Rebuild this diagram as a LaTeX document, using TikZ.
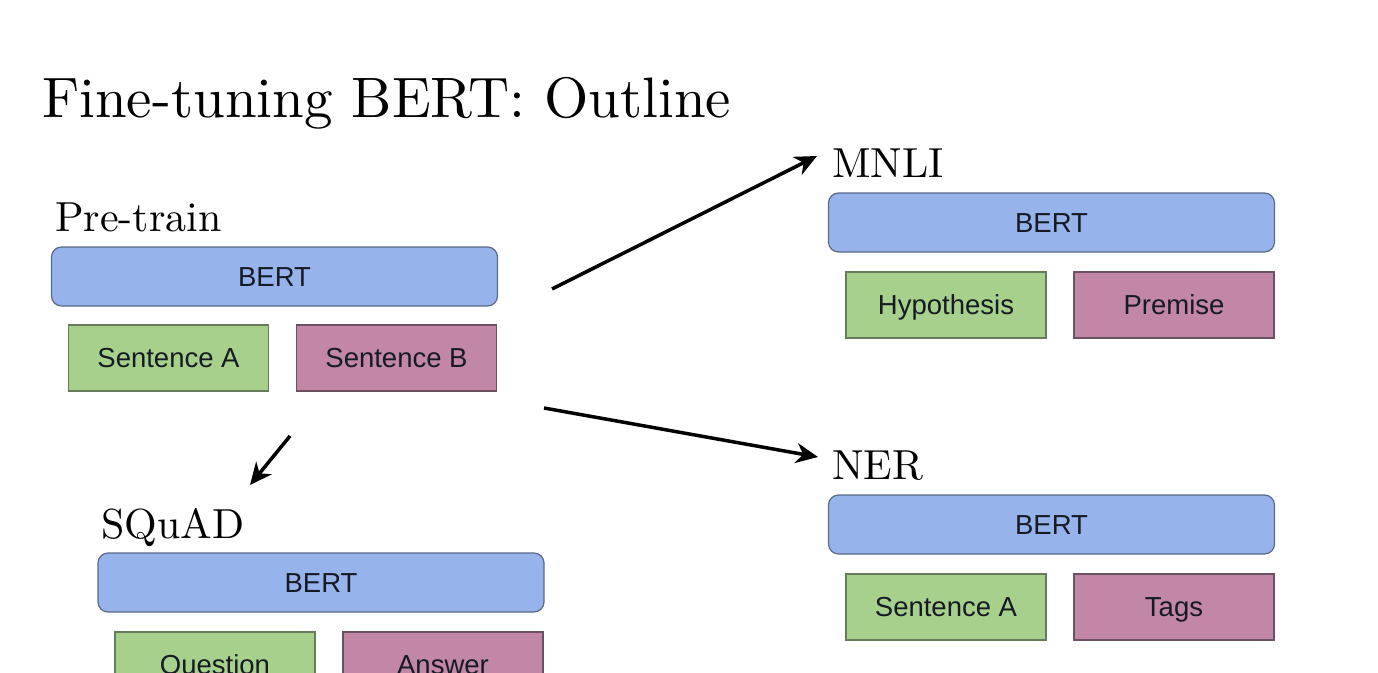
\documentclass[tikz,border=0pt]{standalone}
\usepackage{fontspec}
\setmainfont{lmroman10}[Extension=.otf,UprightFont=*-regular,BoldFont=*-bold]
\setsansfont{Liberation Sans}
\usetikzlibrary{arrows.meta}
\definecolor{bertfill}{HTML}{97B3EC}
\definecolor{bertdraw}{HTML}{5A6A88}
\definecolor{grnfill}{HTML}{A8D08D}
\definecolor{grndraw}{HTML}{667A5C}
\definecolor{pnkfill}{HTML}{C286A6}
\definecolor{pnkdraw}{HTML}{6A5262}
\definecolor{txt}{HTML}{161A22}
\begin{document}
\begin{tikzpicture}[x=1pt,y=-1pt,
  boxtext/.style={font=\sffamily\fontsize{27.5}{30}\selectfont,text=txt,
    text height=19.5pt,text depth=0pt},
  bertbox/.style={boxtext,draw=bertdraw,fill=bertfill,line width=1.2pt,rounded corners=10pt,
    minimum width=446pt,minimum height=59pt,inner sep=0pt},
  inbox/.style={boxtext,line width=1.2pt,minimum width=200pt,minimum height=66pt,inner sep=0pt},
  gbox/.style={inbox,draw=grndraw,fill=grnfill},
  pbox/.style={inbox,draw=pnkdraw,fill=pnkfill},
  lbl/.style={anchor=base west,inner sep=0pt,font=\fontsize{42}{44}\selectfont},
  arr/.style={line width=3.5pt,-{Stealth[length=22pt,width=20pt,inset=7pt]}}
]
\useasboundingbox (0,0) rectangle (1378,672);
\fill[white] (0,0) rectangle (1378,672);

\node[anchor=base west,inner sep=0pt,font=\fontsize{57}{60}\selectfont] (title) at (42,117) {Fine-tuning BERT: Outline};

% Pre-train
\node[lbl] (ptl) at (55,231) {Pre-train};
\node[bertbox] (ptb) at (274.5,276.5) {BERT};
\node[gbox] (pta) at (168.5,358) {Sentence A};
\node[pbox] (ptc) at (396.5,358) {Sentence B};

% MNLI
\node[lbl] (mnl) at (832,177) {MNLI};
\node[bertbox] (mnb) at (1051.5,222.5) {BERT};
\node[gbox] (mna) at (946,305) {Hypothesis};
\node[pbox] (mnc) at (1174,305) {Premise};

% NER
\node[lbl] (nel) at (832,479) {NER};
\node[bertbox] (neb) at (1051.5,524.5) {BERT};
\node[gbox] (nea) at (946,607) {Sentence A};
\node[pbox] (nec) at (1174,607) {Tags};

% SQuAD
\node[lbl] (sql) at (101,538) {SQuAD};
\node[bertbox] (sqb) at (321,582.5) {BERT};
\node[gbox] (sqa) at (215,665) {Question};
\node[pbox] (sqc) at (443,665) {Answer};

% arrows
\coordinate (m0) at (552,289);
\coordinate (m1) at (817,156);
\coordinate (n0) at (544,408);
\coordinate (n1) at (818,457);
\coordinate (s0) at (290,436);
\coordinate (s1) at (250,485);
\draw[arr] (m0) -- (m1);
\draw[arr] (n0) -- (n1);
\draw[arr] (s0) -- (s1);
\end{tikzpicture}
\end{document}
